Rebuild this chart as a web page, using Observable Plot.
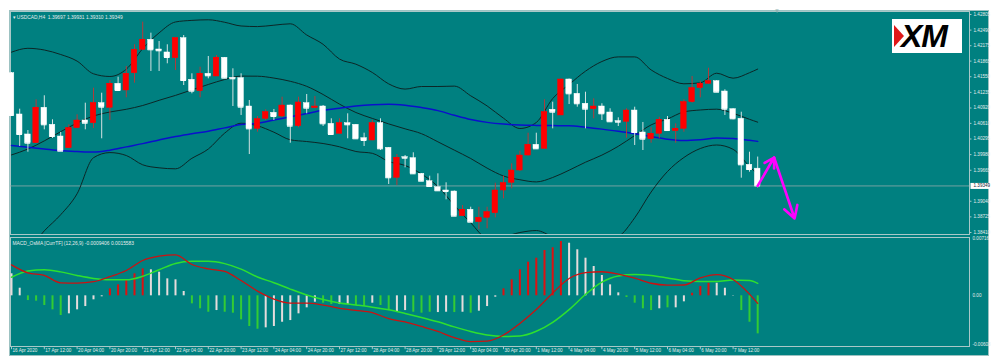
<!DOCTYPE html>
<html><head><meta charset="utf-8">
<script src="https://cdn.jsdelivr.net/npm/d3@7"></script>
<script src="https://cdn.jsdelivr.net/npm/@observablehq/plot@0.6"></script>
<style>
html,body{margin:0;padding:0;background:#fff;}
#wrap{position:relative;width:1000px;height:364px;overflow:hidden;background:#fff;font-family:"Liberation Sans",Arial,sans-serif;}
#teal{position:absolute;left:9px;top:10px;width:980px;height:346px;background:#008080;border:1px solid #9cc2c2;box-sizing:border-box;}
.layer{position:absolute;left:0;top:0;}
#logo{position:absolute;left:892px;top:19px;width:70px;height:34px;background:#fff;}
#tri{position:absolute;left:2px;top:6px;width:0;height:0;border-left:10px solid #e01818;border-top:11px solid transparent;border-bottom:11px solid transparent;}
#xm{position:absolute;left:9px;top:0px;font:italic bold 32px "Liberation Sans",Arial,sans-serif;color:#000;letter-spacing:-1px;line-height:34px;white-space:nowrap;}
#shift{position:absolute;left:774px;top:8px;font-size:6px;color:#8fb3b3;line-height:6px;}
</style></head>
<body>
<div id="wrap">
  <div id="teal"></div>
  <div id="main" class="layer"></div>
  <div id="osc" class="layer"></div>
  <div id="logo"><div id="tri"></div><span id="xm">XM</span></div>
  <div id="shift">▼</div>
</div>
<script>
// ---------- DATA (USDCAD H4) ----------
const symbol = "USDCAD,H4";
const open = [
1.41621,1.40789,1.40386,1.40210,1.40924,1.40581,1.40345,1.40109,1.40513,1.40668,
1.40613,1.41017,1.40924,1.41408,1.41273,1.41621,1.42093,1.42295,1.42099,1.42039,
1.41924,1.42327,1.41488,1.41259,1.41609,1.41555,1.41932,1.41529,1.41521,1.40950,
1.40500,1.40702,1.40823,1.40748,1.40970,1.40553,1.41017,1.40916,1.40950,1.40601,
1.40400,1.40613,1.40581,1.40311,1.40265,1.40613,1.40117,1.39513,1.39928,1.39908,
1.39593,1.39444,1.39323,1.39257,1.39236,1.38739,1.38868,1.38618,1.38706,1.38799,
1.39257,1.39412,1.39660,1.39962,1.40178,1.40097,1.40884,1.40769,1.41494,1.41206,
1.41005,1.40896,1.40950,1.40829,1.40654,1.40642,1.40869,1.40426,1.40291,1.40400,
1.40682,1.40452,1.40500,1.41037,1.41319,1.41408,1.41460,1.41252,1.40896,1.40702,
1.39775,1.39697];
const high = [
1.41636,1.40896,1.40466,1.41085,1.41166,1.40682,1.40426,1.40581,1.40783,1.41017,
1.41319,1.41218,1.41474,1.41541,1.41756,1.42194,1.42650,1.42428,1.42260,1.42194,
1.42341,1.42381,1.41609,1.41742,1.41958,1.41978,1.41938,1.41710,1.41609,1.41071,
1.40748,1.40884,1.40890,1.41138,1.40980,1.41138,1.41192,1.41152,1.40970,1.40702,
1.40702,1.40803,1.40587,1.40412,1.40668,1.40702,1.40123,1.39982,1.39962,1.40017,
1.39599,1.39545,1.39593,1.39412,1.39247,1.38954,1.38920,1.38920,1.38920,1.39404,
1.39545,1.39795,1.40049,1.40412,1.40412,1.41085,1.41037,1.41504,1.41504,1.41394,
1.41238,1.41105,1.41005,1.40904,1.40722,1.40904,1.40936,1.40628,1.40521,1.40734,
1.40748,1.40601,1.41085,1.41555,1.41460,1.41722,1.41474,1.41287,1.40904,1.40835,
1.40029,1.39931];
const low = [
1.40748,1.40144,1.40029,1.40204,1.40480,1.40305,1.40043,1.40103,1.40507,1.40480,
1.40507,1.40299,1.40668,1.41252,1.41125,1.41420,1.42079,1.41656,1.41656,1.41811,
1.41676,1.41373,1.41206,1.41125,1.41508,1.41555,1.41515,1.40950,1.40769,1.39982,
1.40432,1.40668,1.40668,1.40728,1.40210,1.40521,1.40803,1.40904,1.40547,1.40380,
1.40396,1.40299,1.40295,1.40144,1.40260,1.40063,1.39378,1.39357,1.39714,1.39579,
1.39438,1.39323,1.39247,1.39069,1.38732,1.38732,1.38612,1.38464,1.38485,1.38706,
1.39089,1.39291,1.39640,1.39952,1.40093,1.40093,1.40500,1.40769,1.40990,1.40936,
1.40500,1.40702,1.40668,1.40638,1.40547,1.40311,1.40164,1.40063,1.40210,1.40299,
1.40456,1.40210,1.40432,1.41017,1.41125,1.41394,1.41232,1.40769,1.40682,1.39505,
1.39626,1.39310];
const close = [
1.40769,1.40386,1.40210,1.40924,1.40581,1.40345,1.40049,1.40513,1.40668,1.40613,
1.41017,1.40936,1.41408,1.41273,1.41609,1.42093,1.42295,1.42093,1.42073,1.41938,
1.42327,1.41474,1.41259,1.41609,1.41569,1.41932,1.41521,1.41508,1.40936,1.40500,
1.40694,1.40835,1.40748,1.40970,1.40553,1.41031,1.40916,1.40950,1.40601,1.40386,
1.40613,1.40581,1.40299,1.40265,1.40613,1.40097,1.39513,1.39916,1.39908,1.39593,
1.39444,1.39337,1.39251,1.39236,1.38739,1.38868,1.38618,1.38706,1.38819,1.39257,
1.39404,1.39660,1.39962,1.40178,1.40097,1.40835,1.40835,1.41494,1.41206,1.41005,
1.40896,1.40950,1.40803,1.40642,1.40634,1.40869,1.40426,1.40291,1.40400,1.40682,
1.40466,1.40500,1.41037,1.41319,1.41408,1.41460,1.41238,1.40896,1.40702,1.39775,
1.39680,1.39349];

// indicator samples (bar index)
const lineIdx = [0,2,4,6,8,10,12,14,16,18,20,22,24,26,28,30,32,34,36,38,40,42,44,46,48,50,52,54,56,58,60,62,64,66,68,70,72,74,76,78,80,82,84,86,88,90,91];
const bbUpper = [1.42045,1.42123,1.42089,1.41998,1.41865,1.41609,1.41555,1.41702,1.42115,1.42434,
1.42654,1.42686,1.42698,1.42648,1.42573,1.42561,1.42589,1.42617,1.42392,1.42204,
1.41906,1.41803,1.41636,1.41406,1.41301,1.41353,1.41353,1.41361,1.41166,1.40962,
1.40714,1.40507,1.40628,1.41111,1.41394,1.41662,1.41857,1.41950,1.41950,1.41688,
1.41515,1.41408,1.41428,1.41621,1.41521,1.41631,1.41704];
const bbMiddle = [1.39974,1.40093,1.40257,1.40442,1.40619,1.40759,1.40839,1.40894,1.40970,1.41075,
1.41174,1.41285,1.41394,1.41494,1.41563,1.41561,1.41523,1.41458,1.41357,1.41192,
1.40998,1.40829,1.40710,1.40599,1.40500,1.40402,1.40238,1.40071,1.39902,1.39708,
1.39549,1.39474,1.39430,1.39519,1.39666,1.39827,1.39970,1.40148,1.40365,1.40579,
1.40698,1.40841,1.40880,1.40896,1.40813,1.40692,1.40634];
const bbLower = [1.37903,1.38063,1.38444,1.38769,1.39192,1.39918,1.40021,1.39962,1.39775,1.39714,
1.39694,1.39906,1.40093,1.40414,1.40613,1.40561,1.40432,1.40279,1.40244,1.40204,
1.40138,1.40043,1.40007,1.39841,1.39761,1.39589,1.39337,1.38960,1.38605,1.38309,
1.38329,1.38410,1.38450,1.38329,1.38249,1.38208,1.38249,1.38329,1.38706,1.39226,
1.39640,1.39922,1.40103,1.40174,1.40087,1.39740,1.39579];
const maLine = [1.40164,1.40130,1.40095,1.40061,1.40043,1.40031,1.40069,1.40136,1.40202,1.40275,
1.40345,1.40400,1.40452,1.40519,1.40585,1.40611,1.40678,1.40742,1.40809,1.40875,
1.40914,1.40958,1.40986,1.40996,1.40974,1.40928,1.40867,1.40773,1.40688,1.40630,
1.40595,1.40577,1.40569,1.40565,1.40561,1.40531,1.40494,1.40450,1.40402,1.40347,
1.40291,1.40265,1.40281,1.40315,1.40305,1.40269,1.40247];
const macdMain = [0.00387,0.00287,0.00256,0.00162,0.00159,0.00176,0.00239,0.00316,0.00441,0.00495,
0.00512,0.00391,0.00336,0.00306,0.00191,0.00059,-0.0004,-0.00092,-0.00092,-0.00116,
-0.00156,-0.00181,-0.0021,-0.00285,-0.00326,-0.00383,-0.00445,-0.00522,-0.00572,-0.00567,
-0.0049,-0.00345,-0.00171,0.00035,0.00216,0.0029,0.00301,0.00271,0.00221,0.00157,
0.00134,0.00135,0.00224,0.00266,0.00204,0.00021,-0.00094];
const macdSignal = [0.00232,0.00311,0.00325,0.00299,0.00254,0.00217,0.002,0.002,0.00244,0.00326,
0.00405,0.00432,0.00432,0.00402,0.00333,0.00235,0.00164,0.00084,0.00011,-0.00046,
-0.0009,-0.00115,-0.00142,-0.00175,-0.0022,-0.0027,-0.00325,-0.00388,-0.00445,-0.0049,
-0.00508,-0.00502,-0.00443,-0.00331,-0.00172,0.00017,0.00172,0.00249,0.00266,0.00255,
0.00224,0.00189,0.00179,0.00179,0.00199,0.00191,0.00156];
const osma = [0.00275,0.00095,-0.00059,-0.00067,-0.00121,-0.00175,-0.00246,-0.00225,-0.00175,-0.00134,
-0.0005,-0.00012,0.00087,0.00137,0.00191,0.00275,0.00337,0.00325,0.00295,0.00212,
0.002,0.00054,-0.001,-0.00162,-0.00205,-0.00184,-0.00205,-0.00217,-0.003,-0.00383,
-0.00417,-0.004,-0.00383,-0.0033,-0.00309,-0.00225,-0.0015,-0.0008,-0.00092,-0.00109,
-0.00109,-0.00109,-0.00121,-0.00134,-0.00092,-0.00121,-0.00184,-0.00196,-0.00184,-0.00205,
-0.00217,-0.00205,-0.00209,-0.00205,-0.00209,-0.00205,-0.00217,-0.00192,-0.00134,-0.00017,
0.00087,0.002,0.00325,0.0042,0.0047,0.00566,0.006,0.00678,0.00657,0.00575,
0.0047,0.00366,0.00254,0.00137,0.00037,-0.00021,-0.00092,-0.00162,-0.00184,-0.00162,
-0.0015,-0.0015,-0.00075,0.00032,0.00116,0.00157,0.00157,0.00095,0.00004,-0.00184,
-0.0033,-0.00475];
const osmaState = ("wwgggggwwwwwrrrrrwwwwwgggwgggggwwwwwwwggwwggwggwwgggwwgwgwww" +
                   "rrrrrrrrwwwwwwwggggwgwwrrrwwwggg").split("");
const macdTitleValues = [-0.0009406, 0.0015583];

const timeIdx = [0,4,8,12,16,20,24,28,32,36,40,44,48,52,56,60,64,68,72,76,80,84,88];
const timeLabels = ["16 Apr 2020","17 Apr 12:00","20 Apr 04:00","20 Apr 20:00","21 Apr 12:00","22 Apr 04:00",
"22 Apr 20:00","23 Apr 12:00","24 Apr 04:00","24 Apr 20:00","27 Apr 12:00","28 Apr 04:00","28 Apr 20:00",
"29 Apr 12:00","30 Apr 04:00","30 Apr 20:00","1 May 12:00","4 May 04:00","4 May 20:00","5 May 12:00",
"6 May 04:00","6 May 20:00","7 May 12:00"];
const priceTicks = [1.42805,1.42490,1.42175,1.41865,1.41550,1.41235,1.40920,1.40610,1.40295,1.39980,1.39665,1.39040,1.38725,1.38410];
const macdTicks = [0.00716, 0, -0.00608];
const macdTickLabels = ["0.00716","0.00","-0.00608"];
// forecast arrows drawn on the chart (bar index, price)
const arrowFrom = [[91, 1.39349],[93, 1.39922]];
const arrowTo   = [[93, 1.39922],[95.5, 1.38692]];

// ---------- LAYOUT / STYLE ----------
const W = 1000, H = 364;
const xDomain = [-0.122, 116.83];
const frameColor = "#a9c8c8";
const textColor = "#e4ecec";
const font = "Liberation Sans, Arial, sans-serif";
const bullBody = "#ff0000", bearBody = "#ffffff";
const bullWick = "#b23a3a", bearWick = "#d4e2e2";
const histPalette = {w: "#e6dcdc", g: "#33cc33", r: "#dd1111"};

const n = close.length;
const candles = close.map((c, i) => ({i, open: open[i], high: high[i], low: low[i], close: c, up: c >= open[i]}));
const series = (arr) => lineIdx.map((i, k) => ({i, v: arr[k]}));
const lastClose = close[n - 1];
const title = `\u25BE ${symbol}  ${open[n-1].toFixed(5)} ${high[n-1].toFixed(5)} ${low[n-1].toFixed(5)} ${close[n-1].toFixed(5)}`;
const hw = 0.34;

const main = Plot.plot({
  width: W, height: H,
  marginLeft: 10, marginRight: 31, marginTop: 11, marginBottom: 130,
  x: {domain: xDomain, axis: null},
  y: {domain: [1.38370, 1.42865], axis: null},
  color: {type: "identity"},
  style: {background: "transparent", overflow: "visible", fontFamily: font},
  marks: [
    Plot.frame({stroke: frameColor}),
    Plot.ruleY([lastClose], {stroke: "#8fabab", strokeWidth: 0.8}),
    Plot.line(series(bbUpper), {x: "i", y: "v", stroke: "#0c2626", strokeWidth: 1, curve: "monotone-x", clip: true}),
    Plot.line(series(bbMiddle), {x: "i", y: "v", stroke: "#0c2626", strokeWidth: 1, curve: "monotone-x", clip: true}),
    Plot.line(series(bbLower), {x: "i", y: "v", stroke: "#0c2626", strokeWidth: 1, curve: "monotone-x", clip: true}),
    Plot.line(series(maLine), {x: "i", y: "v", stroke: "#0a10cc", strokeWidth: 1.5, curve: "monotone-x", clip: true}),
    Plot.ruleX(candles, {x: "i", y1: "low", y2: "high", stroke: d => d.up ? bullWick : bearWick, strokeWidth: 1}),
    Plot.rect(candles, {x1: d => d.i - hw, x2: d => d.i + hw, y1: "open", y2: "close",
      fill: d => d.up ? bullBody : bearBody, stroke: d => d.up ? bullBody : bearBody, strokeWidth: 0.5}),
    Plot.ruleY(candles, {y: "close", x1: d => d.i - hw, x2: d => d.i + hw, stroke: d => d.up ? bullBody : bearBody, strokeWidth: 1}),
    Plot.arrow(arrowFrom.map((f, k) => ({x1: f[0], y1: f[1], x2: arrowTo[k][0], y2: arrowTo[k][1]})),
      {x1: "x1", y1: "y1", x2: "x2", y2: "y2", stroke: "#ff00ff", strokeWidth: 2.6, headLength: 8}),
    Plot.text([title], {text: d => d, frameAnchor: "top-left", dx: 2, dy: 4, textAnchor: "start", fontSize: 4.9, fill: textColor}),
    Plot.ruleY(priceTicks, {y: d => d, x1: xDomain[1], x2: xDomain[1] + 0.3, stroke: frameColor}),
    Plot.text(priceTicks, {y: d => d, text: d => d.toFixed(5), frameAnchor: "right", dx: 4, textAnchor: "start", fontSize: 4.6, fill: textColor}),
    Plot.ruleY([lastClose], {x1: xDomain[1] + 0.18, x2: xDomain[1] + 2.55, stroke: "#ffffff", strokeWidth: 6}),
    Plot.text([lastClose], {y: d => d, text: d => d.toFixed(5), frameAnchor: "right", dx: 4, textAnchor: "start", fontSize: 4.6, fill: "#123"})
  ]
});
document.getElementById("main").appendChild(main);

const hist = osma.map((v, i) => ({i, v, c: osmaState[i]}));
const macdTitle = `MACD_OsMA [CurrTF] (12,26,9) ${macdTitleValues[0]} ${macdTitleValues[1]}`;
const yLo = -0.00633, yHi = 0.007285;
const osc = Plot.plot({
  width: W, height: H,
  marginLeft: 10, marginRight: 31, marginTop: 237, marginBottom: 18,
  x: {domain: xDomain, axis: null},
  y: {domain: [yLo, yHi], axis: null},
  color: {type: "identity"},
  style: {background: "transparent", overflow: "visible", fontFamily: font},
  marks: [
    Plot.frame({stroke: frameColor}),
    Plot.ruleX(hist, {x: "i", y1: 0, y2: "v", stroke: d => histPalette[d.c], strokeWidth: 2}),
    Plot.line(series(macdSignal), {x: "i", y: "v", stroke: "#2ee02e", strokeWidth: 1.5, curve: "monotone-x"}),
    Plot.line(series(macdMain), {x: "i", y: "v", stroke: "#cc1111", strokeWidth: 1.3, curve: "monotone-x"}),
    Plot.text([macdTitle], {text: d => d, frameAnchor: "top-left", dx: 2, dy: 4, textAnchor: "start", fontSize: 4.9, fill: textColor}),
    Plot.text(macdTicks, {y: d => d, text: (d, k) => macdTickLabels[k], frameAnchor: "right", dx: 3, textAnchor: "start", fontSize: 4.6, fill: textColor}),
    Plot.ruleX(timeIdx, {x: d => d, y1: yLo, y2: yLo - 0.0004, stroke: frameColor}),
    Plot.text(timeIdx, {x: d => d, text: (d, k) => timeLabels[k], frameAnchor: "bottom", dy: 5, dx: 1, textAnchor: "start", fontSize: 4.6, fill: textColor})
  ]
});
document.getElementById("osc").appendChild(osc);
</script>
</body></html>
